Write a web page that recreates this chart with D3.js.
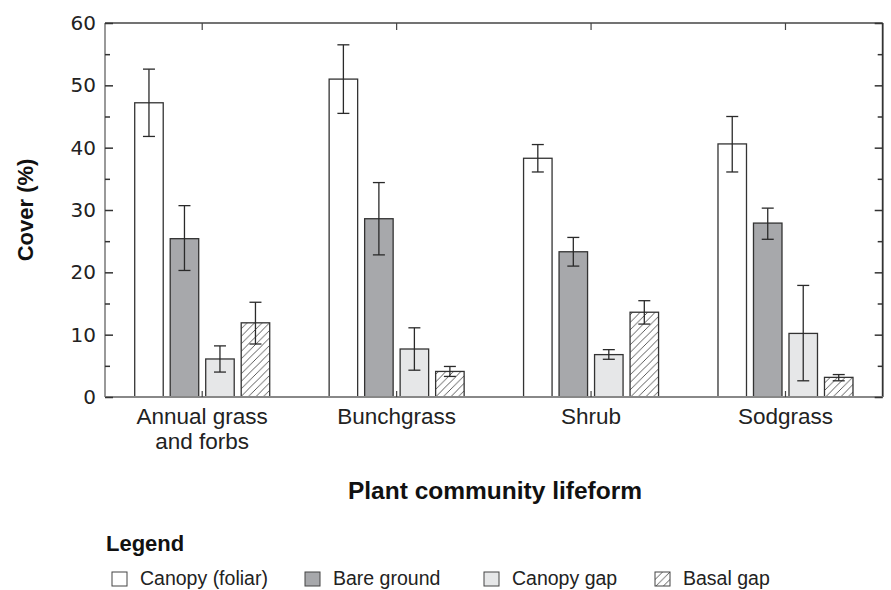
<!DOCTYPE html>
<html>
<head>
<meta charset="utf-8">
<script src="https://cdn.jsdelivr.net/npm/d3@7"></script>
<style>
  html, body { margin: 0; padding: 0; background: #fff; }
  svg { display: block; }
</style>
</head>
<body>
<svg id="chart" width="891" height="590"></svg>
<script>
// Plant community lifeforms (x categories) and their printed labels
const categories = ["Annual grass and forbs", "Bunchgrass", "Shrub", "Sodgrass"];
const categoryLines = [["Annual grass", "and forbs"], ["Bunchgrass"], ["Shrub"], ["Sodgrass"]];

// Cover indicators (series)
const series = ["Canopy (foliar)", "Bare ground", "Canopy gap", "Basal gap"];

// Mean cover (%) per category, one array per series
const canopyFoliar = [47.2, 51.0, 38.3, 40.6];
const bareGround   = [25.4, 28.6, 23.3, 27.9];
const canopyGap    = [6.1, 7.7, 6.8, 10.2];
const basalGap     = [11.9, 4.1, 13.6, 3.15];

// Error bar limits (low, high) per category
const canopyFoliarErr = [[41.8, 52.6], [45.5, 56.5], [36.1, 40.5], [36.1, 45.0]];
const bareGroundErr   = [[20.3, 30.7], [22.8, 34.4], [21.0, 25.6], [25.3, 30.3]];
const canopyGapErr    = [[4.0, 8.2], [4.3, 11.1], [6.05, 7.6], [2.6, 17.9]];
const basalGapErr     = [[8.5, 15.2], [3.3, 4.9], [11.7, 15.45], [2.6, 3.6]];

// Axis ticks
const yMajorTicks = [0, 10, 20, 30, 40, 50, 60];
const yMinorTicks = [5, 15, 25, 35, 45, 55];

const seriesValues = [canopyFoliar, bareGround, canopyGap, basalGap];
const seriesErrors = [canopyFoliarErr, bareGroundErr, canopyGapErr, basalGapErr];

const fills = {
  "Canopy (foliar)": "#ffffff",
  "Bare ground": "#a7a8ab",
  "Canopy gap": "#e6e7e8",
  "Basal gap": "url(#hatch)"
};

const svg = d3.select("#chart");
const plotLeft = 105, plotRight = 882.7, plotTop = 23, plotBottom = 397;

// Diagonal hatch for the basal gap bars
const defs = svg.append("defs");
const pat = defs.append("pattern")
  .attr("id", "hatch")
  .attr("patternUnits", "userSpaceOnUse")
  .attr("width", 7.5).attr("height", 7.5);
pat.append("rect").attr("width", 7.5).attr("height", 7.5).attr("fill", "#fff");
pat.append("path")
  .attr("d", "M-1,1 l2,-2 M0,7.5 l7.5,-7.5 M6.5,8.5 l2,-2")
  .attr("stroke", "#333").attr("stroke-width", 0.8);

const x = d3.scaleBand().domain(categories).range([plotLeft, plotRight]).padding(0);
const xInner = d3.scaleBand().domain(series).range([-67.5, 67.5])
  .paddingInner(0.197).paddingOuter(0);
const y = d3.scaleLinear().domain([0, 60]).range([plotBottom, plotTop]);

// Bars
const rows = [];
categories.forEach((c, i) => {
  series.forEach((s, j) => {
    rows.push({ cat: c, s, v: seriesValues[j][i], lo: seriesErrors[j][i][0], hi: seriesErrors[j][i][1] });
  });
});

const bars = svg.append("g");
bars.selectAll("rect")
  .data(rows)
  .join("rect")
  .attr("x", d => x(d.cat) + x.bandwidth() / 2 + xInner(d.s))
  .attr("y", d => y(d.v))
  .attr("width", xInner.bandwidth())
  .attr("height", d => y(0) - y(d.v))
  .attr("fill", d => fills[d.s])
  .attr("stroke", "#333")
  .attr("stroke-width", 1.3);

// Error bars
const cap = 6;
const err = svg.append("g").attr("stroke", "#2a2a2a").attr("stroke-width", 1.3).attr("fill", "none");
rows.forEach(d => {
  const cx = x(d.cat) + x.bandwidth() / 2 + xInner(d.s) + xInner.bandwidth() / 2;
  err.append("line").attr("x1", cx).attr("x2", cx).attr("y1", y(d.lo)).attr("y2", y(d.hi));
  err.append("line").attr("x1", cx - cap).attr("x2", cx + cap).attr("y1", y(d.lo)).attr("y2", y(d.lo));
  err.append("line").attr("x1", cx - cap).attr("x2", cx + cap).attr("y1", y(d.hi)).attr("y2", y(d.hi));
});

// Frame
const frame = svg.append("g").attr("fill", "none");
frame.append("line").attr("x1", plotLeft).attr("x2", plotRight).attr("y1", plotTop).attr("y2", plotTop)
  .attr("stroke", "#444").attr("stroke-width", 1.5);
frame.append("line").attr("x1", plotRight).attr("x2", plotRight).attr("y1", plotTop).attr("y2", plotBottom)
  .attr("stroke", "#333").attr("stroke-width", 1.8);
frame.append("line").attr("x1", plotLeft).attr("x2", plotLeft).attr("y1", plotTop).attr("y2", plotBottom)
  .attr("stroke", "#777").attr("stroke-width", 1.5);
frame.append("line").attr("x1", plotLeft).attr("x2", plotRight).attr("y1", plotBottom).attr("y2", plotBottom)
  .attr("stroke", "#888").attr("stroke-width", 2.2);

// Y axis ticks (inside) and labels
const yAxis = svg.append("g").attr("transform", `translate(${plotLeft},0)`)
  .call(d3.axisLeft(y).tickValues(yMajorTicks).tickSize(-8).tickPadding(9).tickFormat(d3.format("d")));
const yMinor = svg.append("g").attr("transform", `translate(${plotLeft},0)`)
  .call(d3.axisLeft(y).tickValues(yMinorTicks).tickSize(-5).tickFormat(""));
const yRight = svg.append("g").attr("transform", `translate(${plotRight},0)`)
  .call(d3.axisRight(y).tickValues(yMajorTicks).tickSize(-8).tickFormat(""));
const yRightMinor = svg.append("g").attr("transform", `translate(${plotRight},0)`)
  .call(d3.axisRight(y).tickValues(yMinorTicks).tickSize(-5).tickFormat(""));
[yAxis, yMinor, yRight, yRightMinor].forEach(g => {
  g.select(".domain").remove();
  g.selectAll(".tick line").attr("stroke", "#333").attr("stroke-width", 1.5);
});
yAxis.selectAll(".tick text")
  .attr("font-family", "'DejaVu Sans', sans-serif")
  .attr("font-size", 20)
  .attr("fill", "#222");

// Category ticks on top and bottom edges
const xTop = svg.append("g").attr("transform", `translate(0,${plotTop})`)
  .call(d3.axisTop(x).tickSize(-7).tickFormat(""));
const xBottom = svg.append("g").attr("transform", `translate(0,${plotBottom})`)
  .call(d3.axisBottom(x).tickSize(-6).tickFormat(""));
[xTop, xBottom].forEach(g => {
  g.select(".domain").remove();
  g.selectAll(".tick line").attr("stroke", "#444").attr("stroke-width", 1.2);
});

// Category labels
const catLabels = svg.append("g")
  .attr("font-family", "'Liberation Sans', Arial, sans-serif")
  .attr("font-size", 22.5)
  .attr("fill", "#222")
  .attr("text-anchor", "middle");
categories.forEach((c, i) => {
  categoryLines[i].forEach((line, k) => {
    catLabels.append("text")
      .attr("x", x(c) + x.bandwidth() / 2)
      .attr("y", 424 + k * 25)
      .text(line);
  });
});

// Axis titles
svg.append("text")
  .attr("transform", "translate(33,210) rotate(-90)")
  .attr("text-anchor", "middle")
  .attr("font-family", "'Liberation Sans', Arial, sans-serif")
  .attr("font-weight", "bold")
  .attr("font-size", 22)
  .attr("fill", "#111")
  .text("Cover (%)");

svg.append("text")
  .attr("x", 495).attr("y", 499)
  .attr("text-anchor", "middle")
  .attr("font-family", "'Liberation Sans', Arial, sans-serif")
  .attr("font-weight", "bold")
  .attr("font-size", 24.5)
  .attr("fill", "#111")
  .text("Plant community lifeform");

// Legend
svg.append("text")
  .attr("x", 106).attr("y", 551)
  .attr("font-family", "'Liberation Sans', Arial, sans-serif")
  .attr("font-weight", "bold")
  .attr("font-size", 22)
  .attr("fill", "#111")
  .text("Legend");

const legendX = [112, 305, 484, 655];
const legend = svg.append("g");
series.forEach((s, i) => {
  const g = legend.append("g").attr("transform", `translate(${legendX[i]},572)`);
  g.append("rect").attr("width", 15).attr("height", 14)
    .attr("fill", fills[s]).attr("stroke", "#444").attr("stroke-width", 1);
  g.append("text").attr("x", 28).attr("y", 13)
    .attr("font-family", "'Liberation Sans', Arial, sans-serif")
    .attr("font-size", 19.5)
    .attr("fill", "#222")
    .text(s);
});
</script>
</body>
</html>
